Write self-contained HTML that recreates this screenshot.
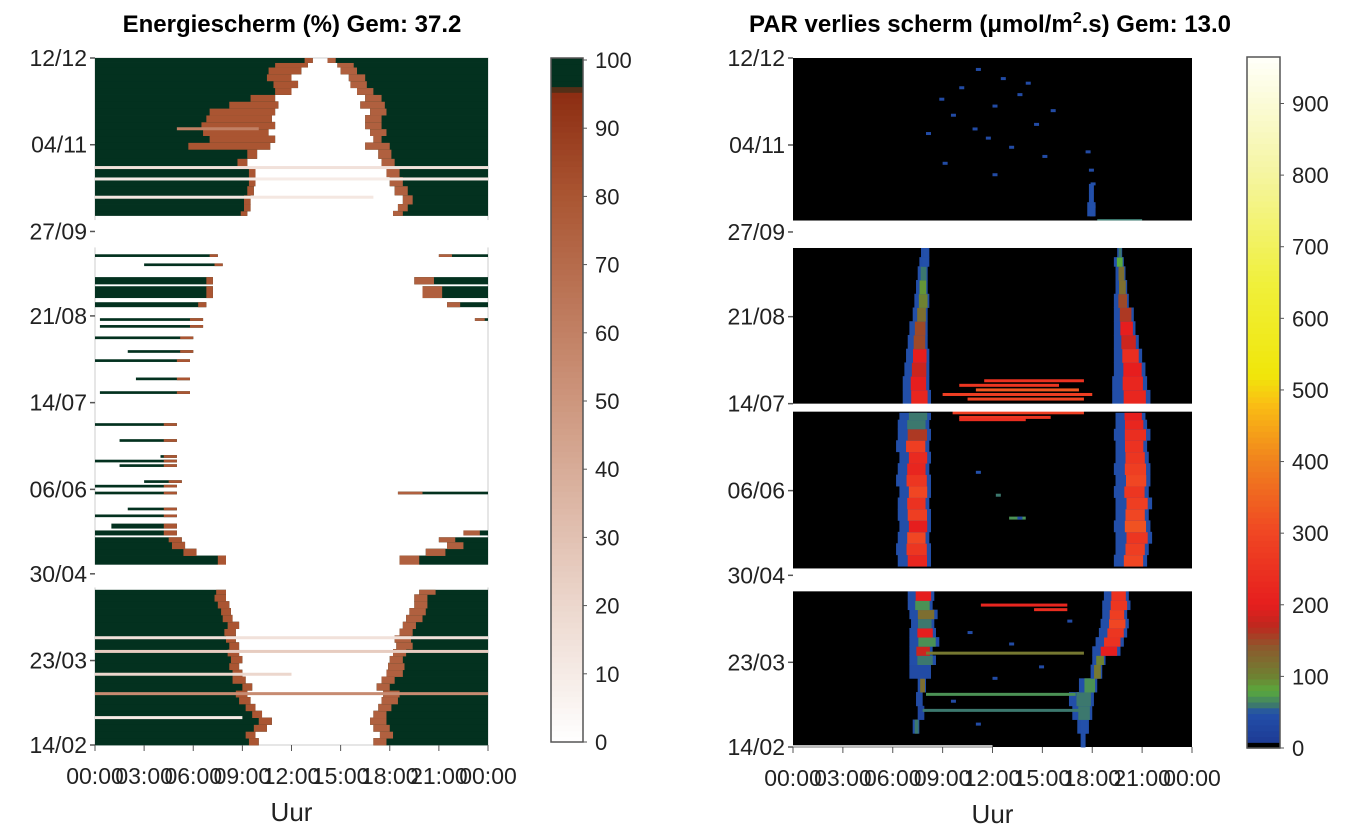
<!DOCTYPE html>
<html><head><meta charset="utf-8"><style>
html,body{margin:0;padding:0;background:#fff;}
svg{display:block;font-family:"Liberation Sans",Arial,sans-serif;}
</style></head><body>
<svg id="c" width="1353" height="828" viewBox="0 0 1353 828" xmlns="http://www.w3.org/2000/svg">
<text x="292" y="32" font-size="24" font-weight="bold" text-anchor="middle">Energiescherm (%) Gem: 37.2</text>
<text x="990" y="32" font-size="24" font-weight="bold" text-anchor="middle">PAR verlies scherm (μmol/m<tspan dy="-9" font-size="16">2</tspan><tspan dy="9">.s) Gem: 13.0</tspan></text>
<g id="L"></g>
<g id="R"></g>
<g id="AX"></g>
</svg>
<script>
// ---------- date / hour labels ----------
const dateLabels=["14/02","23/03","30/04","06/06","14/07","21/08","27/09","04/11","12/12"];
const dateDays=[0,37,75,112,150,188,225,263,301];
const hourLabels=["00:00","03:00","06:00","09:00","12:00","15:00","18:00","21:00","00:00"];
const hourVals=[0,3,6,9,12,15,18,21,24];
const leftCbTicks=[0,10,20,30,40,50,60,70,80,90,100];
const rightCbTicks=[0,100,200,300,400,500,600,700,800,900];

// ---------- left: energy screen rows ----------
const eDay=[0,3,6,9,12,15,18,21,24,27,30,33,36,39,42,45,48,51,54,57,60,63,66,
 79,83,86,89,92,95,100,103,110,113,115,122,124,126,133,140,154,160,168,172,178,183,186,192,196,202,210,214,
 232,234,237,241,245,249,253,257,261,264,267,270,273,276,279,282,285,288,291,294,297,299];
const eSpan=[3,3,3,3,3,3,3,3,3,3,3,3,3,3,3,3,3,3,3,3,3,3,2,
 4,3,3,2,2,2,1,1,1,1,1,1,1,1,1,1,1,1,1,1,1,1,1,2,5,3,1,1,
 2,3,4,4,4,4,4,4,3,3,3,3,3,3,3,3,3,3,3,3,2,2];
const eMStart=[0,0,0,0,0,0,0,0,0,0,0,0,0,0,0,0,0,0,0,0,0,0,0,
 0,0,0,0,0,1,0,2,0,0,3,1.5,0,4,1.5,0,0.3,2.5,0,2,0,0.3,0.3,0,0,0,3,0,
 0,0,0,0,0,0,0,0,0,0,0,0,0,0,0,0,0,0,0,0,0,0];
const eMEnd=[10,9.8,10.5,10.8,10.2,9.8,9.5,9.3,9.6,9.2,9,8.8,9,8.8,8.8,8.6,8.6,8.8,8.4,8.3,8.2,8,8,
 8,6.2,5.5,5.3,5,5,5,5,5,5,5.3,5,5,5,5,5,5.8,5.8,5.8,6,6,6.6,6.6,6.8,7.2,7.2,7.8,7.5,
 9.3,9.5,9.5,9.7,9.8,9.8,9.3,9.9,10.7,11,10.6,11,10.8,11,11.2,11,12,12.4,12,12.6,13,13.3];
const eMFringe=[0.6,0.6,0.8,0.8,0.6,0.6,0.7,0.7,0.6,0.8,0.6,0.6,0.7,0.7,0.6,0.6,0.7,0.7,0.6,0.6,0.7,0.7,0.6,
 0.5,0.8,0.8,0.8,0.8,0.8,0.8,0.8,0.8,0.8,0.8,0.8,0.8,0.8,0.8,0.8,0.8,0.8,0.8,0.8,0.8,0.8,0.8,0.5,0.4,0.4,0.5,0.5,
 0.4,0.4,0.4,0.4,0.4,0.4,0.6,0.6,5,4,4,4.5,4,4,3,1.5,1,1.5,1.5,2,2,0.5];
const eEStart=[17,17.4,17,16.8,17,17.3,17.5,17.6,17.2,17.5,17.8,17.9,18,18.2,18.4,18.3,18.6,18.8,19,19.2,19.5,19.5,19.8,
 18.6,20.2,21.5,21,22.5,24,24,24,18.5,24,24,24,24,24,24,24,24,24,24,24,24,24,23.2,21.5,20,19.5,24,21,
 18.2,18.5,18.8,18.3,18,17.8,17.5,17.3,16.5,17,16.8,16.5,16.5,16.8,16.2,16.5,16,15.6,15.5,15,14.8,14.2];
const eEFringe=[0.8,0.8,1,1,0.8,0.8,1,1,0.8,0.8,1,1,0.8,0.8,1,1,0.8,0.8,1,1,0.8,0.8,1,
 1.2,1.2,1,1,1,0,0,0,1.5,0,0,0,0,0,0,0,0,0,0,0,0,0,0.6,0.8,1.2,1.2,0,0.8,
 0.6,0.6,0.6,0.8,0.8,0.8,0.8,0.8,1.5,0.5,1,1,1,1,1.5,1,1,1,1,1,1,0.5];
// horizontal stripes in left chart
const sDay=[22.5,12,31,41,47,240,248,253,270];
const sVal=[55,10,20,25,15,12,10,15,60];
const sH0=[0,0,0,0,0,0,0,0,5];
const sH1=[24,9,12,24,24,17,24,24,10];

// ---------- right: PAR loss rows ----------
const pDay=[0,6,12,18,24,30,36,40,44,48,52,56,60,64,
 79,84,89,94,99,104,109,114,119,124,129,134,139,143,
 150,156,162,168,174,180,186,192,198,204,210,214,
 232,238,242];
const pSpan=[6,6,6,6,6,6,4,4,4,4,4,4,4,4,
 5,5,5,5,5,5,5,5,5,5,5,5,4,3,
 6,6,6,6,6,6,6,6,6,6,4,4,
 6,4,4];
const pMS=[8.5,7.2,7.5,7.4,7.5,7.0,7.0,7.0,7.0,7.0,7.1,7.0,6.9,6.9,
 6.3,6.2,6.3,6.4,6.3,6.3,6.4,6.2,6.3,6.4,6.2,6.3,6.3,6.4,
 6.6,6.6,6.7,6.8,6.9,7.0,7.2,7.3,7.4,7.5,7.6,7.7,
 0,0,0];
const pME=[8.6,7.6,7.9,7.8,8.0,8.3,8.6,8.4,8.8,8.6,8.5,8.7,8.4,8.5,
 8.3,8.3,8.2,8.3,8.3,8.2,8.3,8.3,8.2,8.3,8.2,8.3,8.2,8.3,
 8.3,8.2,8.2,8.2,8.1,8.1,8.1,8.2,8.1,8.1,8.2,8.2,
 0,0,0];
const pMV=[0,60,30,40,120,40,60,180,70,200,60,120,70,200,
 220,260,300,200,280,250,300,260,220,230,280,160,60,60,
 220,200,180,200,150,150,120,100,90,60,50,50,
 0,0,0];
const pES=[17.3,17.1,16.8,16.6,17.2,17.9,18.0,18.0,18.2,18.4,18.5,18.6,18.6,18.7,
 19.3,19.4,19.4,19.3,19.4,19.4,19.3,19.4,19.3,19.4,19.4,19.3,19.4,19.4,
 19.2,19.2,19.3,19.3,19.3,19.3,19.3,19.3,19.4,19.4,19.3,19.5,
 17.7,17.8,17.8];
const pEE=[17.6,17.8,18.0,18.1,18.3,18.6,18.8,19.7,19.9,20.1,20.2,20.1,20.3,20.2,
 21.3,21.4,21.6,21.5,21.4,21.6,21.4,21.5,21.5,21.4,21.3,21.5,21.3,21.2,
 21.5,21.3,21.2,21.0,20.8,20.6,20.5,20.2,20.1,20.0,19.9,19.8,
 18.2,18.1,18.1];
const pEV=[50,50,60,60,70,110,100,200,250,260,300,280,260,250,
 300,280,260,320,300,280,260,300,280,260,250,240,220,200,
 220,220,200,240,180,200,160,150,120,120,80,60,
 50,50,50];
// horizontal streaks (right)
const kDay=[62,60,41,23,16,152,154,156,158,160,148,146,144,143,100,226,230];
const kH0=[11.3,14.5,8.0,8.0,7.8,10.5,9.0,11.0,10.0,11.5,10.5,9.6,10.0,10.0,13.0,16.0,18.3];
const kH1=[16.5,16.5,17.5,17.0,17.3,17.5,18.0,17.2,16.0,17.5,18.0,17.5,15.5,14.0,14.0,18.0,21.0];
const kVal=[220,240,110,70,60,300,280,330,260,250,300,280,260,240,70,60,60];
// sparse dots (right)
const dDay=[296,292,288,285,280,276,272,270,266,262,258,255,250,290,283,278,268,260,252,246,236,50,45,30,20,10,55,35,110,100,120];
const dHr=[11.0,12.5,10.0,13.5,12.0,9.5,14.5,10.8,11.6,13.0,15.0,9.0,12.0,14.0,8.8,15.5,8.0,17.6,17.8,17.9,17.9,10.5,13.0,12.0,9.5,11.0,16.5,14.8,12.2,13.5,11.0];
const dVal=[40,40,40,40,40,40,40,40,40,40,40,40,40,40,40,40,40,40,40,50,50,40,40,40,40,40,40,40,60,40,50];
// gaps (no data)
const lGap0=[69,218], lGap1=[79,230];
const rGap0=[68,146.5,218], rGap1=[78,150,230];

// ---------- geometry ----------
const NS="http://www.w3.org/2000/svg";
const LX0=95,LX1=488,LY0=745,LY1=58;
const RX0=793,RX1=1192,RY0=747,RY1=58;
const DAYS=301;
const lx=h=>LX0+(LX1-LX0)*h/24, ly=d=>LY0-(LY0-LY1)*d/DAYS;
const rx=h=>RX0+(RX1-RX0)*h/24, ry=d=>RY0-(RY0-RY1)*d/DAYS;
function mk(tag,attrs,parent){const e=document.createElementNS(NS,tag);for(const k in attrs)e.setAttribute(k,attrs[k]);parent.appendChild(e);return e;}
function lerp(a,b,t){return a.map((v,i)=>Math.round(v+(b[i]-v)*t));}
function cmap(stops,v){if(v<=stops[0][0])return stops[0][1];for(let i=1;i<stops.length;i++){if(v<=stops[i][0]){const t=(v-stops[i-1][0])/(stops[i][0]-stops[i-1][0]);return lerp(stops[i-1][1],stops[i][1],t);}}return stops[stops.length-1][1];}
const eStops=[[0,[255,255,255]],[20,[236,215,205]],[50,[205,150,125]],[80,[170,85,50]],[95,[140,45,18]],[96,[3,49,31]],[100,[3,49,31]]];
const pStops=[[0,[0,0,0]],[8,[0,0,0]],[10,[30,60,150]],[50,[35,80,170]],[60,[60,120,110]],[80,[90,170,60]],[100,[110,130,50]],[140,[140,90,45]],[170,[190,40,30]],[200,[230,30,30]],[300,[240,70,35]],[400,[240,130,30]],[480,[250,190,20]],[520,[240,230,10]],[650,[240,240,60]],[800,[245,245,160]],[963,[255,255,250]]];
const rgb=c=>`rgb(${c[0]},${c[1]},${c[2]})`;
const GREEN="rgb(3,49,31)";

// ---------- left heatmap ----------
const L=document.getElementById('L');
let r=mk('rect',{x:LX0,y:LY1,width:LX1-LX0,height:LY0-LY1,fill:'#fff',stroke:'#ccc','stroke-width':1},L);

for(let i=0;i<eDay.length;i++){
  const y=ly(eDay[i]+eSpan[i]), h=ly(eDay[i])-y+0.4;
  if(eMEnd[i]>eMStart[i]){
    r=mk('rect',{x:lx(eMStart[i]),y:y,width:lx(eMEnd[i])-lx(eMStart[i]),height:h,fill:GREEN},L);
    
    const f0=Math.max(eMStart[i],eMEnd[i]-eMFringe[i]);
    r=mk('rect',{x:lx(f0),y:y,width:lx(eMEnd[i])-lx(f0),height:h,fill:rgb(cmap(eStops,80))},L);
    
  }
  if(eEStart[i]<24){
    r=mk('rect',{x:lx(eEStart[i]),y:y,width:lx(24)-lx(eEStart[i]),height:h,fill:GREEN},L);
    
    r=mk('rect',{x:lx(eEStart[i]),y:y,width:lx(eEStart[i]+eEFringe[i])-lx(eEStart[i]),height:h,fill:rgb(cmap(eStops,75))},L);
    
  }
}
for(let i=0;i<sDay.length;i++){
  r=mk('rect',{x:lx(sH0[i]),y:ly(sDay[i])-1.5,width:lx(sH1[i])-lx(sH0[i]),height:3,fill:rgb(cmap(eStops,sVal[i]))},L);
  
}
for(let i=0;i<lGap0.length;i++){
  r=mk('rect',{x:LX0-1,y:ly(lGap1[i]),width:LX1-LX0+2,height:ly(lGap0[i])-ly(lGap1[i]),fill:'#fff'},L);
  
}

// ---------- right heatmap ----------
const R=document.getElementById('R');
r=mk('rect',{x:RX0,y:RY1,width:RX1-RX0,height:RY0-RY1,fill:'#000'},R);

function band(h0,h1,d0,span,v,name){
  if(h1<=h0)return;
  const y=ry(d0+span),hh=ry(d0)-y+0.4;
  let e=mk('rect',{x:rx(h0),y:y,width:rx(h1)-rx(h0),height:hh,fill:rgb(cmap(pStops,Math.min(v,45)))},R);
  
  if(v>45){const w=h1-h0;
    e=mk('rect',{x:rx(h0+w*0.3),y:y,width:rx(h1-w*0.12)-rx(h0+w*0.3),height:hh,fill:rgb(cmap(pStops,v))},R);
    }
}
for(let i=0;i<pDay.length;i++){
  band(pMS[i],pME[i],pDay[i],pSpan[i],pMV[i],'par-morning-band');
  band(pES[i],pEE[i],pDay[i],pSpan[i],pEV[i],'par-evening-band');
}
for(let i=0;i<kDay.length;i++){
  r=mk('rect',{x:rx(kH0[i]),y:ry(kDay[i])-1.5,width:rx(kH1[i])-rx(kH0[i]),height:3,fill:rgb(cmap(pStops,kVal[i]))},R);
  
}
for(let i=0;i<dDay.length;i++){
  r=mk('rect',{x:rx(dHr[i]),y:ry(dDay[i])-1.5,width:5,height:3,fill:rgb(cmap(pStops,dVal[i]))},R);
  
}
for(let i=0;i<rGap0.length;i++){
  r=mk('rect',{x:RX0-1,y:ry(rGap1[i]),width:RX1-RX0+2,height:ry(rGap0[i])-ry(rGap1[i]),fill:'#fff'},R);
  
}
r=mk('rect',{x:RX0,y:RY0-2,width:rx(12)-RX0,height:3,fill:'#bbb'},R);


// ---------- axes ----------
const AX=document.getElementById('AX');
function axes(x0,x1,y0,y1,fx,fy,side){
  for(let i=0;i<dateDays.length;i++){
    const y=fy(dateDays[i]);
    let t=mk('line',{x1:x0-5,x2:x0,y1:y,y2:y,stroke:'#555','stroke-width':1.5},AX);
    
    t=mk('text',{x:x0-8,y:y+8,'font-size':23,'text-anchor':'end',fill:'#222'},AX);
    t.textContent=dateLabels[i];
    
  }
  for(let i=0;i<hourVals.length;i++){
    const x=fx(hourVals[i]);
    let t=mk('line',{x1:x,x2:x,y1:y0,y2:y0+6,stroke:'#555','stroke-width':1},AX);
    
    t=mk('text',{x:x,y:y0+39,'font-size':23,'text-anchor':'middle',fill:'#222'},AX);
    t.textContent=hourLabels[i];
    
  }
  let t=mk('text',{x:(x0+x1)/2,y:y0+76,'font-size':26,'text-anchor':'middle',fill:'#222'},AX);
  t.textContent='Uur';
  
}
axes(LX0,LX1,LY0,LY1,lx,ly,'left');
axes(RX0,RX1,RY0,RY1,rx,ry,'right');

// ---------- colorbars ----------
function colorbar(x,yTop,yBot,w,stops,vmax,ticks,tickTop,tickBot,tmax,name){
  const n=120;
  for(let i=0;i<n;i++){
    const v=vmax*(i+0.5)/n, y=yBot-(yBot-yTop)*(i+1)/n;
    const e=mk('rect',{x:x,y:y,width:w,height:(yBot-yTop)/n+0.6,fill:rgb(cmap(stops,v))},AX);
    
  }
  let e=mk('rect',{x:x,y:yTop,width:w,height:yBot-yTop,fill:'none',stroke:'#555','stroke-width':1.5},AX);
  
  for(let i=0;i<ticks.length;i++){
    const y=tickBot-(tickBot-tickTop)*ticks[i]/tmax;
    e=mk('line',{x1:x+w,x2:x+w+4,y1:y,y2:y,stroke:'#555'},AX);
    
    e=mk('text',{x:x+w+12,y:y+8,'font-size':22,fill:'#222'},AX);
    e.textContent=ticks[i];
    
  }
}
colorbar(551,58,742,32,eStops,100,leftCbTicks,60,742,100,'left-colorbar');
colorbar(1247,57,748,33,pStops,963,rightCbTicks,103.5,748,900,'right-colorbar');
</script>
</body></html>
